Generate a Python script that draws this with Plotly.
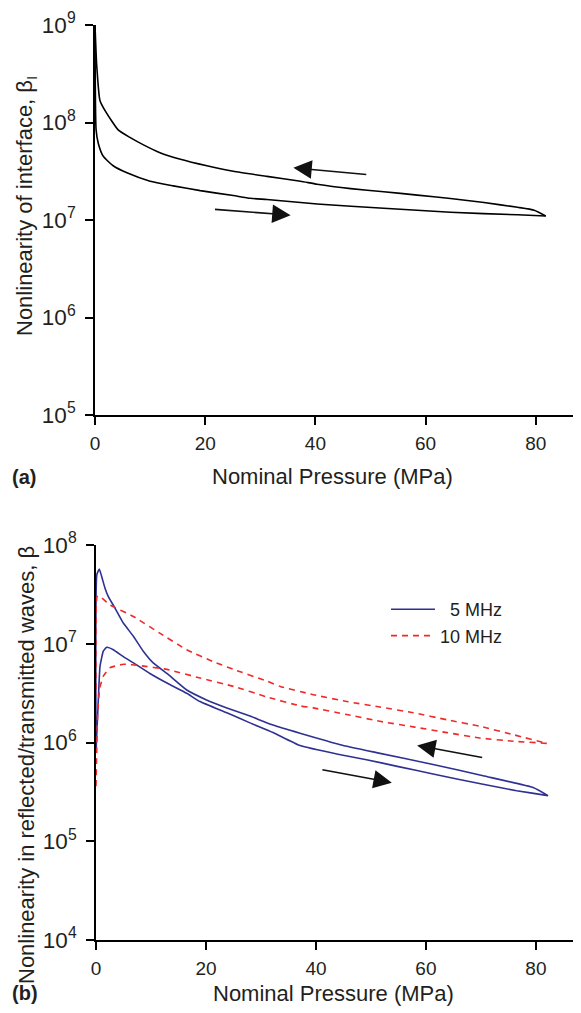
import plotly.graph_objects as go

# ---------------- Panel (a): nonlinearity of interface ----------------
a_load_x = [0, 0.2, 0.6, 1.5, 3.3, 5.8, 10, 14.2, 19.1, 25.1, 28.2, 31.2, 37.3, 40.3, 52.4,
            64.5, 76.7, 81.8]
a_load_y = [1e9, 8.4e7, 6.1e7, 4.5e7, 3.6e7, 3.05e7, 2.5e7, 2.24e7, 2.0e7, 1.78e7, 1.67e7,
            1.62e7, 1.51e7, 1.46e7, 1.32e7, 1.2e7, 1.13e7, 1.1e7]
a_unload_x = [81.8, 79.7, 76.7, 70.6, 64.5, 58.5, 52.4, 46.4, 40.3, 37.3, 31.2, 25.1, 20.3,
              15.5, 11.8, 8.8, 6.4, 4.2, 1.8, 0.9, 0.3, 0]
a_unload_y = [1.1e7, 1.26e7, 1.35e7, 1.51e7, 1.66e7, 1.8e7, 1.95e7, 2.1e7, 2.33e7, 2.5e7,
              2.8e7, 3.16e7, 3.6e7, 4.2e7, 4.9e7, 5.9e7, 7.0e7, 8.4e7, 1.33e8, 1.68e8,
              3.95e8, 1e9]

# ---------------- Panel (b): reflected/transmitted waves ----------------
b5_load_x = [0, 0.42, 0.73, 1.33, 1.94, 3.15, 4.97, 6.8, 9.8, 12.9, 16.5, 18.9, 23.8, 28,
             32.2, 37.1, 44, 49.2, 55, 61.3, 70.4, 76.5, 82.2]
b5_load_y = [8e5, 2.7e6, 5.9e6, 8.4e6, 9.2e6, 8.7e6, 7.4e6, 6.4e6, 5.0e6, 4.0e6, 3.15e6,
             2.6e6, 2.0e6, 1.58e6, 1.26e6, 9.3e5, 7.6e5, 6.7e5, 5.7e5, 4.8e5, 3.77e5,
             3.25e5, 2.9e5]
b5_unload_x = [82.2, 79.5, 70.4, 61.3, 51, 44.4, 37.1, 32.2, 28, 23.8, 20.1, 16.5, 12.9,
               10.4, 8.6, 6.8, 4.97, 3.45, 2.24, 1.64, 1.03, 0.6, 0.15, 0]
b5_unload_y = [2.9e5, 3.5e5, 4.6e5, 6.0e5, 7.9e5, 9.5e5, 1.24e6, 1.5e6, 1.85e6, 2.24e6,
               2.7e6, 3.4e6, 5.0e6, 6.4e6, 8.4e6, 1.19e7, 1.62e7, 2.3e7, 3.0e7, 3.65e7,
               4.8e7, 5.7e7, 5.0e7, 1e6]

b10_load_x = [0, 0.3, 0.7, 1.33, 2.5, 5, 8, 12.9, 18.9, 25, 31, 37.1, 39.5, 45.6, 51.6,
              57.7, 63.8, 69.8, 75.9, 82]
b10_load_y = [3.6e5, 2e6, 3.6e6, 4.7e6, 5.7e6, 6.2e6, 6.0e6, 5.5e6, 4.5e6, 3.7e6, 2.9e6,
              2.35e6, 2.24e6, 1.92e6, 1.64e6, 1.44e6, 1.26e6, 1.11e6, 1.03e6, 9.8e5]
b10_unload_x = [82, 75.9, 69.8, 63.8, 57.7, 51.6, 45.6, 39.5, 33.5, 31, 25, 21.3, 16.5,
                11.6, 6.8, 2.5, 0.6, 0.2, 0]
b10_unload_y = [9.8e5, 1.2e6, 1.46e6, 1.7e6, 2.0e6, 2.29e6, 2.6e6, 3.05e6, 3.7e6, 4.2e6,
                5.5e6, 6.6e6, 8.7e6, 1.28e7, 1.89e7, 2.48e7, 3.05e7, 3.0e7, 3e6]

series_names = ["\u20075 MHz", "10 MHz"]

# direction arrows: (head x, head log10 y, tail x, tail log10 y)
a_arrows = [(36, 7.535, 49.5, 7.465), (35.5, 7.05, 21.5, 7.11)]
b_arrows = [(58.4, 5.97, 70.5, 5.845), (53.8, 5.593, 40.9, 5.727)]

x_range = [0, 88.2]
x_major = [0, 20, 40, 60, 80]
x_minor = [10, 30, 50, 70]

FONT = "Liberation Sans, Arial, sans-serif"
TXT = "#231f20"
BLUE = "#2e3192"
RED = "#ee2a2a"

W, H = 581, 1013
OFF = 8  # page body margin of the browser


def px(x):
    return (x - OFF) / W


def py(y):
    return 1 - (y - OFF) / H


fig = go.Figure()

fig.add_trace(go.Scatter(x=a_load_x, y=a_load_y, mode="lines",
                         line=dict(color="black", width=1.6, shape="spline", smoothing=0.5),
                         showlegend=False, xaxis="x", yaxis="y"))
fig.add_trace(go.Scatter(x=a_unload_x, y=a_unload_y, mode="lines",
                         line=dict(color="black", width=1.6, shape="spline", smoothing=0.5),
                         showlegend=False, xaxis="x", yaxis="y"))

fig.add_trace(go.Scatter(x=b5_load_x + b5_unload_x, y=b5_load_y + b5_unload_y, mode="lines",
                         name=series_names[0],
                         line=dict(color=BLUE, width=1.6, shape="spline", smoothing=0.4),
                         xaxis="x2", yaxis="y2"))
fig.add_trace(go.Scatter(x=b10_load_x + b10_unload_x, y=b10_load_y + b10_unload_y,
                         mode="lines", name=series_names[1],
                         line=dict(color=RED, width=1.6, dash="6px,5px", shape="spline",
                                   smoothing=0.4),
                         xaxis="x2", yaxis="y2"))


def log_minor(lo, hi):
    return [m * 10 ** e for e in range(lo, hi) for m in range(2, 10)]


def xax(dom, anchor):
    return dict(domain=dom, range=x_range, anchor=anchor, showline=True, linecolor="black",
                linewidth=1.5, ticks="outside", ticklen=8, tickwidth=1.8, tickcolor="black",
                tickmode="array", tickvals=x_major, showgrid=False, zeroline=False,
                automargin=False, ticklabelstandoff=2, ticklabeloverflow="allow",
                tickfont=dict(family=FONT, size=19, color=TXT))


def xminor(over, anchor):
    return dict(overlaying=over, anchor=anchor, range=x_range, showline=False,
                ticks="outside", ticklen=5, tickwidth=1.6, tickcolor="black",
                tickmode="array", tickvals=x_minor, showticklabels=False,
                showgrid=False, zeroline=False, automargin=False)


def yax(dom, rng, anchor):
    return dict(domain=dom, type="log", range=rng, anchor=anchor, showline=True,
                linecolor="black", linewidth=1.5, ticks="outside", ticklen=8,
                tickwidth=1.8, tickcolor="black", dtick=1, exponentformat="power",
                showgrid=False, zeroline=False, automargin=False, ticklabelstandoff=6,
                ticklabeloverflow="allow",
                tickfont=dict(family=FONT, size=18, color=TXT))


def yminor(over, rng, anchor):
    return dict(overlaying=over, anchor=anchor, type="log", range=rng, side="left",
                showline=False, ticks="outside", ticklen=5, tickwidth=1.5,
                tickcolor="black", tickmode="array", tickvals=log_minor(rng[0], rng[1]),
                showticklabels=False, showgrid=False, zeroline=False, automargin=False)


annotations = []
for (hx, hy, tx, ty) in a_arrows:
    annotations.append(dict(x=hx, y=hy, ax=tx, ay=ty, xref="x", yref="y", axref="x",
                            ayref="y", text="", showarrow=True, arrowhead=2,
                            arrowsize=2.3, arrowwidth=1.6, arrowcolor="#111"))
for (hx, hy, tx, ty) in b_arrows:
    annotations.append(dict(x=hx, y=hy, ax=tx, ay=ty, xref="x2", yref="y2", axref="x2",
                            ayref="y2", text="", showarrow=True, arrowhead=2,
                            arrowsize=2.3, arrowwidth=1.6, arrowcolor="#111"))

tfont = dict(family=FONT, size=22, color=TXT)
annotations += [
    dict(text="Nominal Pressure (MPa)", x=px(332), y=py(477), xref="paper",
         yref="paper", showarrow=False, font=tfont, xanchor="center", yanchor="middle"),
    dict(text="Nominal Pressure (MPa)", x=px(333), y=py(993), xref="paper",
         yref="paper", showarrow=False, font=tfont, xanchor="center", yanchor="middle"),
    dict(text="<b>(a)</b>", x=px(10), y=py(477), xref="paper", yref="paper",
         showarrow=False, font=dict(family=FONT, size=20, color=TXT), xanchor="left",
         yanchor="middle"),
    dict(text="<b>(b)</b>", x=px(10), y=py(993), xref="paper", yref="paper",
         showarrow=False, font=dict(family=FONT, size=20, color=TXT), xanchor="left",
         yanchor="middle"),
    dict(text="Nonlinearity of interface, \u03b2<sub>I</sub>", x=px(26), y=py(206),
         xref="paper", yref="paper", showarrow=False, font=tfont, textangle=-90,
         xanchor="center", yanchor="middle"),
    dict(text="Nonlinearity in reflected/transmitted waves, \u03b2", x=px(26),
         y=py(765), xref="paper", yref="paper", showarrow=False,
         font=dict(family=FONT, size=22, color=TXT),
         textangle=-90, xanchor="center", yanchor="middle"),
]

fig.update_layout(
    width=W, height=H,
    margin=dict(l=0, r=0, t=0, b=0, autoexpand=False),
    paper_bgcolor="white", plot_bgcolor="white",
    font=dict(family=FONT, color=TXT),
    xaxis=xax([px(95), px(581)], "y"),
    yaxis=yax([py(415), py(25)], [5, 9], "x"),
    xaxis2=xax([px(96), px(581)], "y2"),
    yaxis2=yax([py(940), py(545)], [4, 8], "x2"),
    xaxis3=xminor("x", "y"),
    yaxis3=yminor("y", [5, 9], "x"),
    xaxis4=xminor("x2", "y2"),
    yaxis4=yminor("y2", [4, 8], "x2"),
    legend=dict(x=px(386), y=py(591), xanchor="left", yanchor="top",
                bgcolor="rgba(0,0,0,0)", font=dict(family=FONT, size=18, color=TXT),
                itemwidth=44, tracegroupgap=0),
    annotations=annotations,
    showlegend=True,
)

fig.write_html("out.html")
